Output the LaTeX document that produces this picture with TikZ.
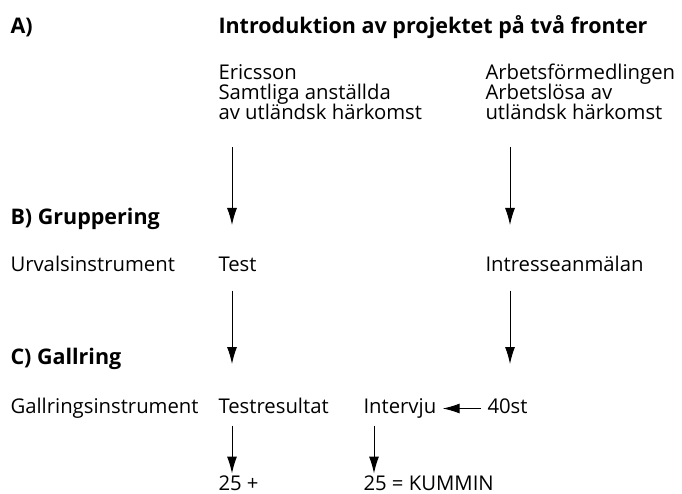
\documentclass[tikz,border=0pt]{standalone}
\usepackage{fontspec}
\setmainfont{Open Sans}
\usetikzlibrary{arrows.meta}
\tikzset{
  txt/.style={anchor=base west,inner sep=0pt,text height=13pt,text depth=4pt,
    font=\fontsize{20.3}{21}\selectfont},
  head/.style={txt,font=\fontsize{21.5}{22}\selectfont\bfseries},
}
\begin{document}
\begin{tikzpicture}[x=1pt,y=-1pt,>={Latex[length=17pt,width=10pt]},line width=1pt]
\useasboundingbox (0,0) rectangle (682,494);
% A) introduktion
\node[head] (lblA) at (10,34) {A)};
\node[head] (intro) at (218,34) {Introduktion av projektet på två fronter};
\node[txt] (eric1) at (218,80) {Ericsson};
\node[txt] (eric2) at (218,100) {Samtliga anställda};
\node[txt] (eric3) at (218,120) {av utländsk härkomst};
\node[txt] (af1) at (485,80) {Arbetsförmedlingen};
\node[txt] (af2) at (485,100) {Arbetslösa av};
\node[txt] (af3) at (485,120) {utländsk härkomst};
% B) gruppering
\node[head] (lblB) at (10,225) {B) Gruppering};
\node[txt] (urval) at (10,271) {Urvalsinstrument};
\node[txt] (test) at (218,271) {Test};
\node[txt] (intr) at (485,271) {Intresseanmälan};
% C) gallring
\node[head] (lblC) at (10,364) {C) Gallring};
\node[txt] (gallr) at (10,413) {Gallringsinstrument};
\node[txt] (testres) at (218,413) {Testresultat};
\node[txt] (interv) at (363,413) {Intervju};
\node[txt] (st40) at (487,413) {40st};
\node[txt] (res1) at (218,490) {25 +};
\node[txt] (res2) at (363,490) {25 = KUMMIN};
% pilar
\draw[->,shorten <=23pt] ([xshift=14pt]eric3.south west) -- ([xshift=14pt]eric3.south west |- lblB.base);
\draw[->,shorten <=23pt] ([xshift=25pt]af3.south west) -- ([xshift=25pt]af3.south west |- lblB.base);
\draw[->,shorten <=15pt] ([xshift=14pt]test.south west) -- ([xshift=14pt]test.south west |- lblC.base);
\draw[->,shorten <=15pt] ([xshift=25pt]intr.south west) -- ([xshift=25pt]intr.south west |- lblC.base);
\draw[->,shorten <=8pt,shorten >=3pt] ([xshift=14pt]testres.south west) -- ([xshift=14pt]res1.north west);
\draw[->,shorten <=8pt,shorten >=3pt] ([xshift=11pt]interv.south west) -- ([xshift=11pt]res2.north west);
\draw[->,shorten <=6pt,shorten >=6pt] (st40.west) -- (interv.east);
\end{tikzpicture}
\end{document}
